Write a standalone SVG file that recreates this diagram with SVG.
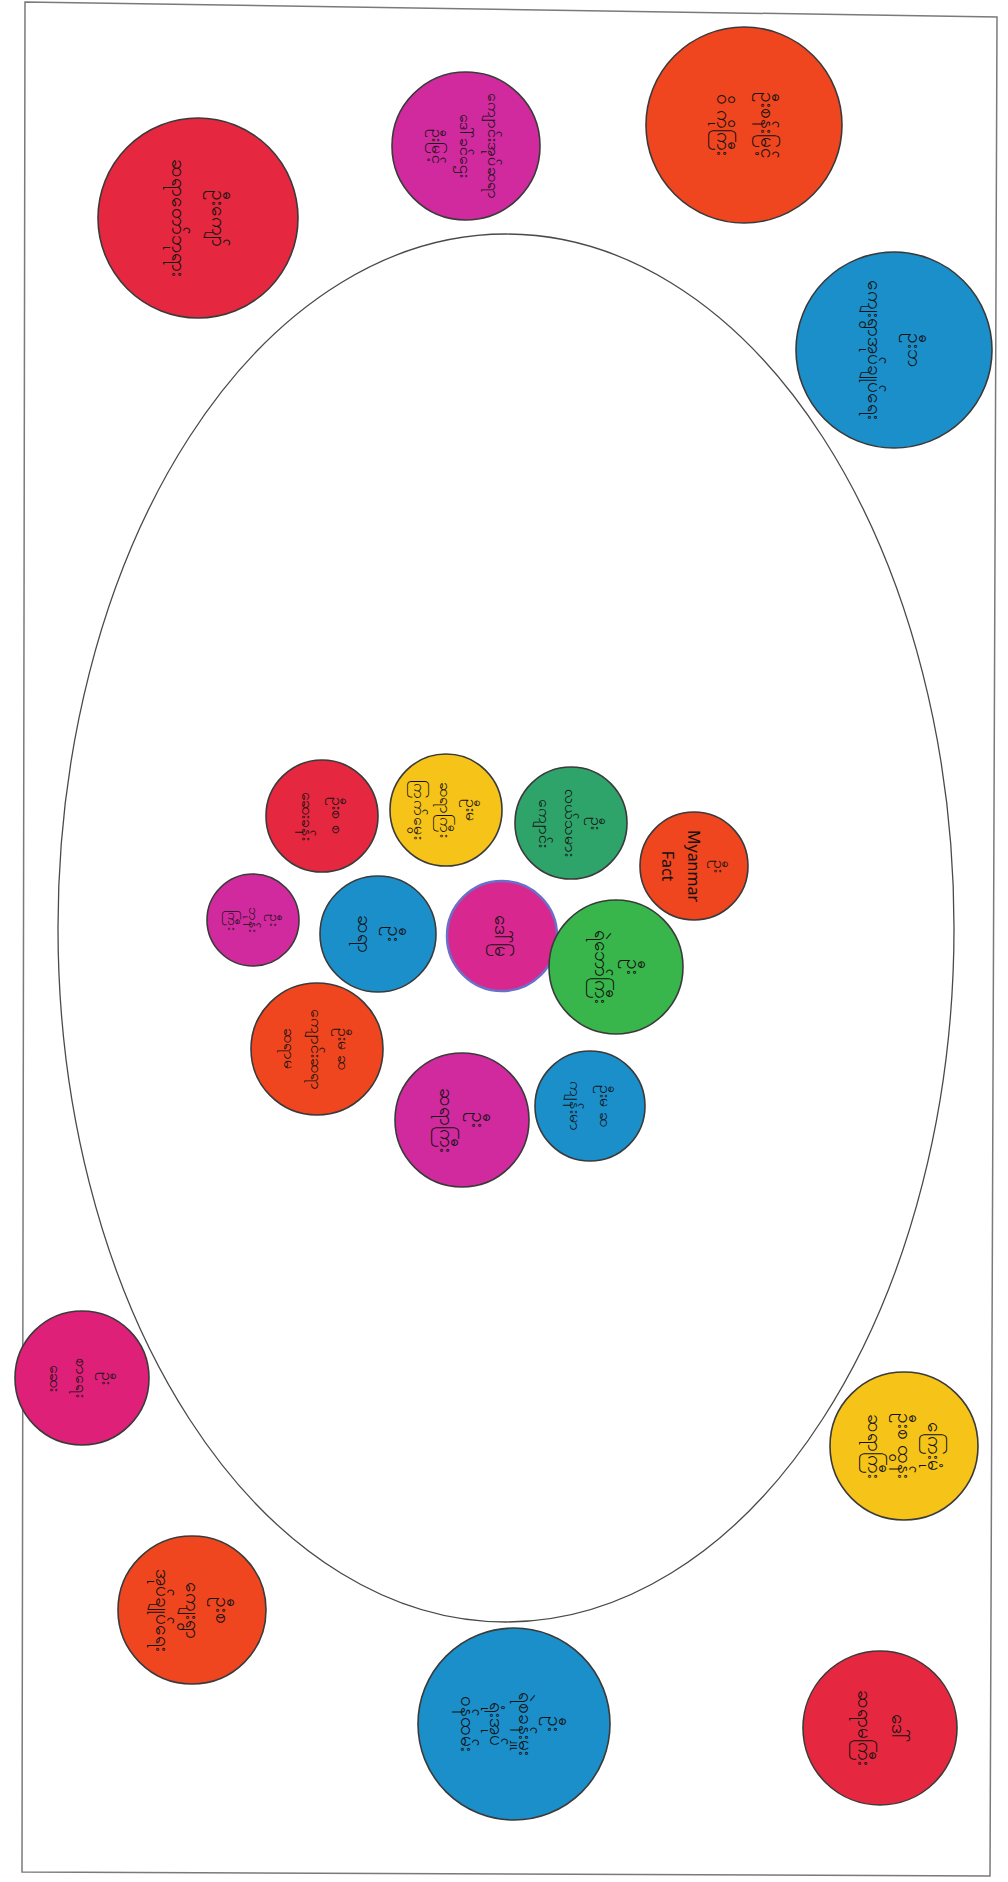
<svg xmlns="http://www.w3.org/2000/svg" width="1008" height="1882" viewBox="0 0 1008 1882">
<style>
.c{stroke:#3a3a3a;stroke-width:1.6}
.red{fill:#e5283f}.mag{fill:#d12a9e}.org{fill:#f0461f}.blu{fill:#1b8fca}
.yel{fill:#f6c319}.tea{fill:#2ea46a}.grn{fill:#38b64b}.pnk{fill:#df2079}
.t{font-family:"Noto Sans","DejaVu Sans",sans-serif;font-size:19px;fill:#111111;text-anchor:middle}
.s{font-size:16px}
</style>
<rect width="1008" height="1882" fill="#ffffff"/>
<polygon points="25,2 997,17 990,1876 22,1872" fill="none" stroke="#7a7a7a" stroke-width="1.5"/>
<ellipse cx="506" cy="928" rx="448" ry="694" fill="none" stroke="#4a4a4a" stroke-width="1.3"/>
<g id="n1"><circle class="c red" cx="198" cy="218" r="100"/><g transform="rotate(90 198 218)"><text class="t" x="198" y="204">ဦးကျော်</text><text class="t" x="198" y="244">ဆရာတော်ဘုရား</text></g></g>
<g id="n2"><circle class="c mag" cx="466" cy="146" r="74"/><g transform="rotate(90 466 146)"><text class="t s" x="466" y="124">ကျောင်းအုပ်ဆရာ</text><text class="t s" x="466" y="152">ဒေါ်ခင်ဌေး</text><text class="t s" x="466" y="180">ဦးမြင့်</text></g></g>
<g id="n3"><circle class="c org" cx="744" cy="125" r="98"/><g transform="rotate(90 744 125)"><text class="t" x="744" y="108">ဦးစန်းမြင့်</text><text class="t" x="744" y="152">ဝိ ကိုကြီး</text></g></g>
<g id="n4"><circle class="c blu" cx="894" cy="350" r="98"/><g transform="rotate(90 894 350)"><text class="t" x="894" y="336">ဦးဘ</text><text class="t" x="894" y="376">ကျေးရွာအုပ်ချုပ်ရေး</text></g></g>
<g id="n5"><circle class="c red" cx="322" cy="816" r="56"/><g transform="rotate(90 322 816)"><text class="t s" x="322" y="806">ဦးစ စ</text><text class="t s" x="322" y="836">ဆေးခန်း</text></g></g>
<g id="n6"><circle class="c yel" cx="446" cy="810" r="56"/><g transform="rotate(90 446 810)"><text class="t s" x="446" y="790">ဦးမ</text><text class="t s" x="446" y="816">ဆရာကြီး</text><text class="t s" x="446" y="842">ကြက်မွေး</text></g></g>
<g id="n7"><circle class="c tea" cx="571" cy="823" r="56"/><g transform="rotate(90 571 823)"><text class="t s" x="571" y="803">ဦး</text><text class="t s" x="571" y="829">လယ်သမား</text><text class="t s" x="571" y="855">ကျောင်း</text></g></g>
<g id="n8"><circle class="c org" cx="694" cy="866" r="54"/><g transform="rotate(90 694 866)"><text class="t s" x="694" y="846">ဦး</text><text class="t s" x="694" y="872">Myanmar</text><text class="t s" x="694" y="898">Fact</text></g></g>
<g id="n9"><circle class="c mag" cx="253" cy="920" r="46"/><g transform="rotate(90 253 920)"><text class="t" x="253" y="903" style="font-size:14px">ဦး</text><text class="t" x="253" y="924" style="font-size:14px">ဘုန်း</text><text class="t" x="253" y="945" style="font-size:14px">ကြီး</text></g></g>
<g id="n10"><circle class="c blu" cx="378" cy="934" r="58"/><g transform="rotate(90 378 934)"><text class="t" x="378" y="924">ဦး</text><text class="t" x="378" y="954">ဆရာ</text></g></g>
<g id="n11"><circle cx="502" cy="936" r="55" fill="#d8288f" stroke="#6a6fc8" stroke-width="2.5"/><g transform="rotate(90 502 936)"><text class="t" x="502" y="943">ဒေါ်မြ</text></g></g>
<g id="n12"><circle class="c grn" cx="616" cy="967" r="67"/><g transform="rotate(90 616 967)"><text class="t" x="616" y="956">ဦး</text><text class="t" x="616" y="988">ရဲဘော်ကြီး</text></g></g>
<g id="n13"><circle class="c org" cx="317" cy="1049" r="66"/><g transform="rotate(90 317 1049)"><text class="t s" x="317" y="1028">ဦးမ ဆ</text><text class="t s" x="317" y="1055">ကျောင်းဆရာ</text><text class="t s" x="317" y="1082">ဆရာမ</text></g></g>
<g id="n14"><circle class="c mag" cx="462" cy="1120" r="67"/><g transform="rotate(90 462 1120)"><text class="t" x="462" y="1110">ဦး</text><text class="t" x="462" y="1142">ဆရာကြီး</text></g></g>
<g id="n15"><circle class="c blu" cx="590" cy="1106" r="55"/><g transform="rotate(90 590 1106)"><text class="t s" x="590" y="1096">ဦးမ ဆ</text><text class="t s" x="590" y="1126">ကျန်းမာ</text></g></g>
<g id="n16"><circle class="c pnk" cx="82" cy="1378" r="67"/><g transform="rotate(90 82 1378)"><text class="t s" x="82" y="1358">ဦး</text><text class="t s" x="82" y="1384">စာရေး</text><text class="t s" x="82" y="1410">ဆေး</text></g></g>
<g id="n17"><circle class="c yel" cx="904" cy="1446" r="74"/><g transform="rotate(90 904 1446)"><text class="t" x="904" y="1422">ကြေးမုံ</text><text class="t" x="904" y="1452">ဦးစ ထွန်း</text><text class="t" x="904" y="1482">ဆရာကြီး</text></g></g>
<g id="n18"><circle class="c org" cx="192" cy="1610" r="74"/><g transform="rotate(90 192 1610)"><text class="t" x="192" y="1586">ဦးစ</text><text class="t" x="192" y="1616">ကျေးရွာ</text><text class="t" x="192" y="1646">အုပ်ချုပ်ရေး</text></g></g>
<g id="n19"><circle class="c blu" cx="514" cy="1724" r="96"/><g transform="rotate(90 514 1724)"><text class="t" x="514" y="1690">ဦး</text><text class="t" x="514" y="1719">ရဲစခန်းမှူး</text><text class="t" x="514" y="1748">ရုံးအုပ်</text><text class="t" x="514" y="1777">ဝန်ထမ်း</text></g></g>
<g id="n20"><circle class="c red" cx="880" cy="1728" r="77"/><g transform="rotate(90 880 1728)"><text class="t" x="880" y="1716">ဒေါ်</text><text class="t" x="880" y="1750">ဆရာမကြီး</text></g></g>
<g id="connectors"></g>
</svg>
